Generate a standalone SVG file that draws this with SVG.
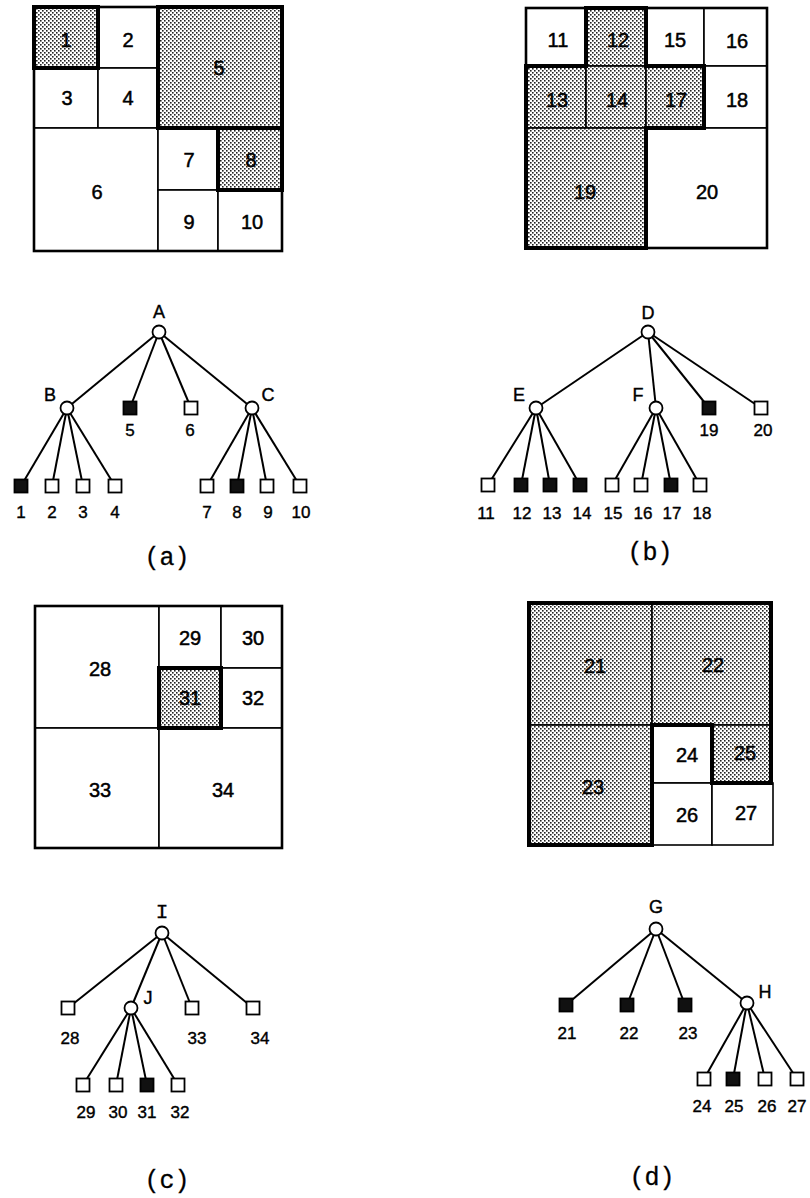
<svg xmlns="http://www.w3.org/2000/svg" width="810" height="1198" viewBox="0 0 810 1198">
<defs>
<pattern id="dots" width="4" height="4" patternUnits="userSpaceOnUse">
<rect width="4" height="4" fill="#fff"/>
<rect x="0" y="0" width="1.6" height="1.6" fill="#222"/>
<rect x="2" y="2" width="1.6" height="1.6" fill="#222"/>
</pattern>
</defs>
<style>
.cell{fill:#fff;stroke:#000;stroke-width:1.6}
.sh{fill:url(#dots);stroke:#000;stroke-width:1.6}
.outer{fill:none;stroke:#000;stroke-width:2.6}
.thick{fill:none;stroke:#000;stroke-width:4;stroke-linejoin:miter}
.gl{font-family:"Liberation Sans","DejaVu Sans",sans-serif;font-size:20px;text-anchor:middle;dominant-baseline:central;fill:#000;stroke:#000;stroke-width:0.5}
.tl{font-family:"Liberation Sans","DejaVu Sans",sans-serif;font-size:17px;text-anchor:middle;dominant-baseline:central;fill:#000;stroke:#000;stroke-width:0.4}
.ll{font-family:"Liberation Sans","DejaVu Sans",sans-serif;font-size:18px;text-anchor:middle;dominant-baseline:central;fill:#000;stroke:#000;stroke-width:0.4}
.cap{font-family:"Liberation Mono","DejaVu Sans Mono",monospace;font-size:25px;text-anchor:middle;dominant-baseline:central;fill:#000;stroke:#000;stroke-width:0.3}
.edge{stroke:#000;stroke-width:2;fill:none}
.circ{fill:#fff;stroke:#000;stroke-width:1.8}
.wsq{fill:#fff;stroke:#000;stroke-width:1.8}
.bsq{fill:#111;stroke:#000;stroke-width:1.8}
</style>

<!-- Grid (a) -->
<g id="grid-a">
<g id="cell-1"><rect class="sh" x="34" y="7" width="64" height="61"/><text class="gl" x="66" y="40">1</text></g>
<g id="cell-2"><rect class="cell" x="98" y="7" width="60" height="61"/><text class="gl" x="128" y="40">2</text></g>
<g id="cell-3"><rect class="cell" x="34" y="68" width="64" height="60"/><text class="gl" x="67" y="98">3</text></g>
<g id="cell-4"><rect class="cell" x="98" y="68" width="60" height="60"/><text class="gl" x="128" y="98">4</text></g>
<g id="cell-5"><rect class="sh" x="158" y="7" width="124" height="121"/><text class="gl" x="219" y="68">5</text></g>
<g id="cell-6"><rect class="cell" x="34" y="128" width="124" height="123"/><text class="gl" x="97" y="192">6</text></g>
<g id="cell-7"><rect class="cell" x="158" y="128" width="60" height="62"/><text class="gl" x="189" y="160">7</text></g>
<g id="cell-8"><rect class="sh" x="218" y="128" width="64" height="62"/><text class="gl" x="251" y="160">8</text></g>
<g id="cell-9"><rect class="cell" x="158" y="190" width="60" height="61"/><text class="gl" x="189" y="222">9</text></g>
<g id="cell-10"><rect class="cell" x="218" y="190" width="64" height="61"/><text class="gl" x="252" y="222">10</text></g>
<rect class="outer" x="34" y="7" width="248" height="244"/>
<rect class="thick" x="34" y="7" width="64" height="61"/>
<rect class="thick" x="158" y="7" width="124" height="121"/>
<rect class="thick" x="218" y="128" width="64" height="62"/>
</g>

<!-- Grid (b) -->
<g id="grid-b">
<g id="cell-11"><rect class="cell" x="526" y="8" width="60" height="58"/><text class="gl" x="558" y="40">11</text></g>
<g id="cell-12"><rect class="sh" x="586" y="8" width="60" height="58"/><text class="gl" x="618" y="40">12</text></g>
<g id="cell-15"><rect class="cell" x="646" y="8" width="58" height="58"/><text class="gl" x="675" y="40">15</text></g>
<g id="cell-16"><rect class="cell" x="704" y="8" width="63" height="58"/><text class="gl" x="737" y="41">16</text></g>
<g id="cell-13"><rect class="sh" x="526" y="66" width="60" height="62"/><text class="gl" x="557" y="100">13</text></g>
<g id="cell-14"><rect class="sh" x="586" y="66" width="60" height="62"/><text class="gl" x="617" y="100">14</text></g>
<g id="cell-17"><rect class="sh" x="646" y="66" width="58" height="62"/><text class="gl" x="676" y="100">17</text></g>
<g id="cell-18"><rect class="cell" x="704" y="66" width="63" height="62"/><text class="gl" x="737" y="100">18</text></g>
<g id="cell-19"><rect class="sh" x="526" y="128" width="120" height="120"/><text class="gl" x="585" y="192">19</text></g>
<g id="cell-20"><rect class="cell" x="646" y="128" width="121" height="120"/><text class="gl" x="707" y="192">20</text></g>
<rect class="outer" x="526" y="8" width="241" height="240"/>
<polygon class="thick" points="526,66 586,66 586,8 646,8 646,66 704,66 704,128 646,128 646,248 526,248"/>
</g>

<!-- Grid (c) -->
<g id="grid-c">
<g id="cell-28"><rect class="cell" x="35" y="606" width="124" height="122"/><text class="gl" x="100" y="669">28</text></g>
<g id="cell-29"><rect class="cell" x="159" y="606" width="62" height="62"/><text class="gl" x="190" y="638">29</text></g>
<g id="cell-30"><rect class="cell" x="221" y="606" width="61" height="62"/><text class="gl" x="253" y="638">30</text></g>
<g id="cell-31"><rect class="sh" x="159" y="668" width="62" height="60"/><text class="gl" x="190" y="698">31</text></g>
<g id="cell-32"><rect class="cell" x="221" y="668" width="61" height="60"/><text class="gl" x="253" y="698">32</text></g>
<g id="cell-33"><rect class="cell" x="35" y="728" width="124" height="120"/><text class="gl" x="100" y="790">33</text></g>
<g id="cell-34"><rect class="cell" x="159" y="728" width="123" height="120"/><text class="gl" x="223" y="790">34</text></g>
<rect class="outer" x="35" y="606" width="247" height="242"/>
<rect class="thick" x="159" y="668" width="62" height="60"/>
</g>

<!-- Grid (d) -->
<g id="grid-d">
<g id="cell-21"><rect class="sh" x="529" y="603" width="123" height="122"/><text class="gl" x="595" y="666">21</text></g>
<g id="cell-22"><rect class="sh" x="652" y="603" width="119" height="122"/><text class="gl" x="713" y="665">22</text></g>
<g id="cell-23"><rect class="sh" x="529" y="725" width="123" height="120"/><text class="gl" x="593" y="787">23</text></g>
<g id="cell-24"><rect class="cell" x="652" y="725" width="60" height="58"/><text class="gl" x="687" y="755">24</text></g>
<g id="cell-25"><rect class="sh" x="712" y="725" width="59" height="58"/><text class="gl" x="745" y="753">25</text></g>
<g id="cell-26"><rect class="cell" x="652" y="783" width="60" height="62"/><text class="gl" x="687" y="815">26</text></g>
<g id="cell-27"><rect class="cell" x="712" y="783" width="61" height="62"/><text class="gl" x="746" y="813">27</text></g>
<polygon class="thick" points="529,603 771,603 771,783 712,783 712,725 652,725 652,845 529,845"/>
</g>

<!-- Connectors -->
<g id="connectors">
<line class="edge" x1="159" y1="332" x2="67" y2="408"/>
<line class="edge" x1="159" y1="332" x2="130" y2="408"/>
<line class="edge" x1="159" y1="332" x2="191" y2="408"/>
<line class="edge" x1="159" y1="332" x2="252" y2="408"/>
<line class="edge" x1="67" y1="408" x2="21" y2="486"/>
<line class="edge" x1="67" y1="408" x2="52" y2="486"/>
<line class="edge" x1="67" y1="408" x2="83" y2="486"/>
<line class="edge" x1="67" y1="408" x2="115" y2="486"/>
<line class="edge" x1="252" y1="408" x2="207" y2="486"/>
<line class="edge" x1="252" y1="408" x2="237" y2="486"/>
<line class="edge" x1="252" y1="408" x2="267" y2="486"/>
<line class="edge" x1="252" y1="408" x2="300" y2="486"/>

<line class="edge" x1="648" y1="332" x2="536" y2="408"/>
<line class="edge" x1="648" y1="332" x2="656" y2="408"/>
<line class="edge" x1="648" y1="332" x2="709" y2="408"/>
<line class="edge" x1="648" y1="332" x2="761" y2="408"/>
<line class="edge" x1="536" y1="408" x2="488" y2="485"/>
<line class="edge" x1="536" y1="408" x2="521" y2="485"/>
<line class="edge" x1="536" y1="408" x2="550" y2="485"/>
<line class="edge" x1="536" y1="408" x2="580" y2="485"/>
<line class="edge" x1="656" y1="408" x2="612" y2="485"/>
<line class="edge" x1="656" y1="408" x2="641" y2="485"/>
<line class="edge" x1="656" y1="408" x2="671" y2="485"/>
<line class="edge" x1="656" y1="408" x2="700" y2="485"/>

<line class="edge" x1="162" y1="933" x2="68" y2="1008"/>
<line class="edge" x1="162" y1="933" x2="131" y2="1008"/>
<line class="edge" x1="162" y1="933" x2="192" y2="1008"/>
<line class="edge" x1="162" y1="933" x2="253" y2="1008"/>
<line class="edge" x1="131" y1="1008" x2="83" y2="1085"/>
<line class="edge" x1="131" y1="1008" x2="116" y2="1085"/>
<line class="edge" x1="131" y1="1008" x2="147" y2="1085"/>
<line class="edge" x1="131" y1="1008" x2="178" y2="1085"/>

<line class="edge" x1="656" y1="929" x2="566" y2="1005"/>
<line class="edge" x1="656" y1="929" x2="627" y2="1005"/>
<line class="edge" x1="656" y1="929" x2="685" y2="1005"/>
<line class="edge" x1="656" y1="929" x2="747" y2="1003"/>
<line class="edge" x1="747" y1="1003" x2="704" y2="1079"/>
<line class="edge" x1="747" y1="1003" x2="733" y2="1079"/>
<line class="edge" x1="747" y1="1003" x2="765" y2="1079"/>
<line class="edge" x1="747" y1="1003" x2="797" y2="1079"/>
</g>

<!-- Tree (a) -->
<g id="node-A"><circle class="circ" cx="159" cy="332" r="6.5"/><text class="ll" x="159" y="312">A</text></g>
<g id="node-B"><circle class="circ" cx="67" cy="408" r="6.5"/><text class="ll" x="50" y="395">B</text></g>
<g id="node-C"><circle class="circ" cx="252" cy="408" r="6.5"/><text class="ll" x="268" y="395">C</text></g>
<g id="leaf-5"><rect class="bsq" x="123.5" y="401.5" width="13" height="13"/><text class="tl" x="130" y="430">5</text></g>
<g id="leaf-6"><rect class="wsq" x="184.5" y="401.5" width="13" height="13"/><text class="tl" x="190" y="430">6</text></g>
<g id="leaf-1"><rect class="bsq" x="14.5" y="479.5" width="13" height="13"/><text class="tl" x="21" y="512">1</text></g>
<g id="leaf-2"><rect class="wsq" x="45.5" y="479.5" width="13" height="13"/><text class="tl" x="52" y="512">2</text></g>
<g id="leaf-3"><rect class="wsq" x="76.5" y="479.5" width="13" height="13"/><text class="tl" x="83" y="512">3</text></g>
<g id="leaf-4"><rect class="wsq" x="108.5" y="479.5" width="13" height="13"/><text class="tl" x="115" y="512">4</text></g>
<g id="leaf-7"><rect class="wsq" x="200.5" y="479.5" width="13" height="13"/><text class="tl" x="207" y="512">7</text></g>
<g id="leaf-8"><rect class="bsq" x="230.5" y="479.5" width="13" height="13"/><text class="tl" x="237" y="512">8</text></g>
<g id="leaf-9"><rect class="wsq" x="260.5" y="479.5" width="13" height="13"/><text class="tl" x="268" y="512">9</text></g>
<g id="leaf-10"><rect class="wsq" x="293.5" y="479.5" width="13" height="13"/><text class="tl" x="301" y="512">10</text></g>
<text class="cap" x="167" y="558">(a)</text>

<!-- Tree (b) -->
<g id="node-D"><circle class="circ" cx="648" cy="332" r="6.5"/><text class="ll" x="648" y="313">D</text></g>
<g id="node-E"><circle class="circ" cx="536" cy="408" r="6.5"/><text class="ll" x="519" y="395">E</text></g>
<g id="node-F"><circle class="circ" cx="656" cy="408" r="6.5"/><text class="ll" x="638" y="395">F</text></g>
<g id="leaf-19"><rect class="bsq" x="702.5" y="401.5" width="13" height="13"/><text class="tl" x="709" y="430">19</text></g>
<g id="leaf-20"><rect class="wsq" x="754.5" y="401.5" width="13" height="13"/><text class="tl" x="763" y="430">20</text></g>
<g id="leaf-11"><rect class="wsq" x="481.5" y="478.5" width="13" height="13"/><text class="tl" x="486" y="513">11</text></g>
<g id="leaf-12"><rect class="bsq" x="514.5" y="478.5" width="13" height="13"/><text class="tl" x="522" y="513">12</text></g>
<g id="leaf-13"><rect class="bsq" x="543.5" y="478.5" width="13" height="13"/><text class="tl" x="552" y="513">13</text></g>
<g id="leaf-14"><rect class="bsq" x="573.5" y="478.5" width="13" height="13"/><text class="tl" x="582" y="513">14</text></g>
<g id="leaf-15"><rect class="wsq" x="605.5" y="478.5" width="13" height="13"/><text class="tl" x="613" y="513">15</text></g>
<g id="leaf-16"><rect class="wsq" x="634.5" y="478.5" width="13" height="13"/><text class="tl" x="643" y="513">16</text></g>
<g id="leaf-17"><rect class="bsq" x="664.5" y="478.5" width="13" height="13"/><text class="tl" x="672" y="513">17</text></g>
<g id="leaf-18"><rect class="wsq" x="693.5" y="478.5" width="13" height="13"/><text class="tl" x="702" y="513">18</text></g>
<text class="cap" x="650" y="553">(b)</text>

<!-- Tree (c) -->
<g id="node-I"><circle class="circ" cx="162" cy="933" r="6.5"/><text class="cap" style="font-size:21px" x="162" y="912">I</text></g>
<g id="node-J"><circle class="circ" cx="131" cy="1008" r="6.5"/><text class="ll" x="148" y="998">J</text></g>
<g id="leaf-28"><rect class="wsq" x="61.5" y="1001.5" width="13" height="13"/><text class="tl" x="70" y="1038">28</text></g>
<g id="leaf-33"><rect class="wsq" x="185.5" y="1001.5" width="13" height="13"/><text class="tl" x="197" y="1038">33</text></g>
<g id="leaf-34"><rect class="wsq" x="246.5" y="1001.5" width="13" height="13"/><text class="tl" x="260" y="1038">34</text></g>
<g id="leaf-29"><rect class="wsq" x="76.5" y="1078.5" width="13" height="13"/><text class="tl" x="86" y="1112">29</text></g>
<g id="leaf-30"><rect class="wsq" x="109.5" y="1078.5" width="13" height="13"/><text class="tl" x="118" y="1112">30</text></g>
<g id="leaf-31"><rect class="bsq" x="140.5" y="1078.5" width="13" height="13"/><text class="tl" x="147" y="1112">31</text></g>
<g id="leaf-32"><rect class="wsq" x="171.5" y="1078.5" width="13" height="13"/><text class="tl" x="180" y="1112">32</text></g>
<text class="cap" x="167" y="1181">(c)</text>

<!-- Tree (d) -->
<g id="node-G"><circle class="circ" cx="656" cy="929" r="6.5"/><text class="ll" x="656" y="907">G</text></g>
<g id="node-H"><circle class="circ" cx="747" cy="1003" r="6.5"/><text class="ll" x="765" y="992">H</text></g>
<g id="leaf-21"><rect class="bsq" x="559.5" y="998.5" width="13" height="13"/><text class="tl" x="567" y="1033">21</text></g>
<g id="leaf-22"><rect class="bsq" x="620.5" y="998.5" width="13" height="13"/><text class="tl" x="629" y="1033">22</text></g>
<g id="leaf-23"><rect class="bsq" x="678.5" y="998.5" width="13" height="13"/><text class="tl" x="688" y="1033">23</text></g>
<g id="leaf-24"><rect class="wsq" x="697.5" y="1072.5" width="13" height="13"/><text class="tl" x="702" y="1106">24</text></g>
<g id="leaf-25"><rect class="bsq" x="726.5" y="1072.5" width="13" height="13"/><text class="tl" x="734" y="1106">25</text></g>
<g id="leaf-26"><rect class="wsq" x="758.5" y="1072.5" width="13" height="13"/><text class="tl" x="767" y="1106">26</text></g>
<g id="leaf-27"><rect class="wsq" x="790.5" y="1072.5" width="13" height="13"/><text class="tl" x="797" y="1106">27</text></g>
<text class="cap" x="652" y="1178">(d)</text>
</svg>
